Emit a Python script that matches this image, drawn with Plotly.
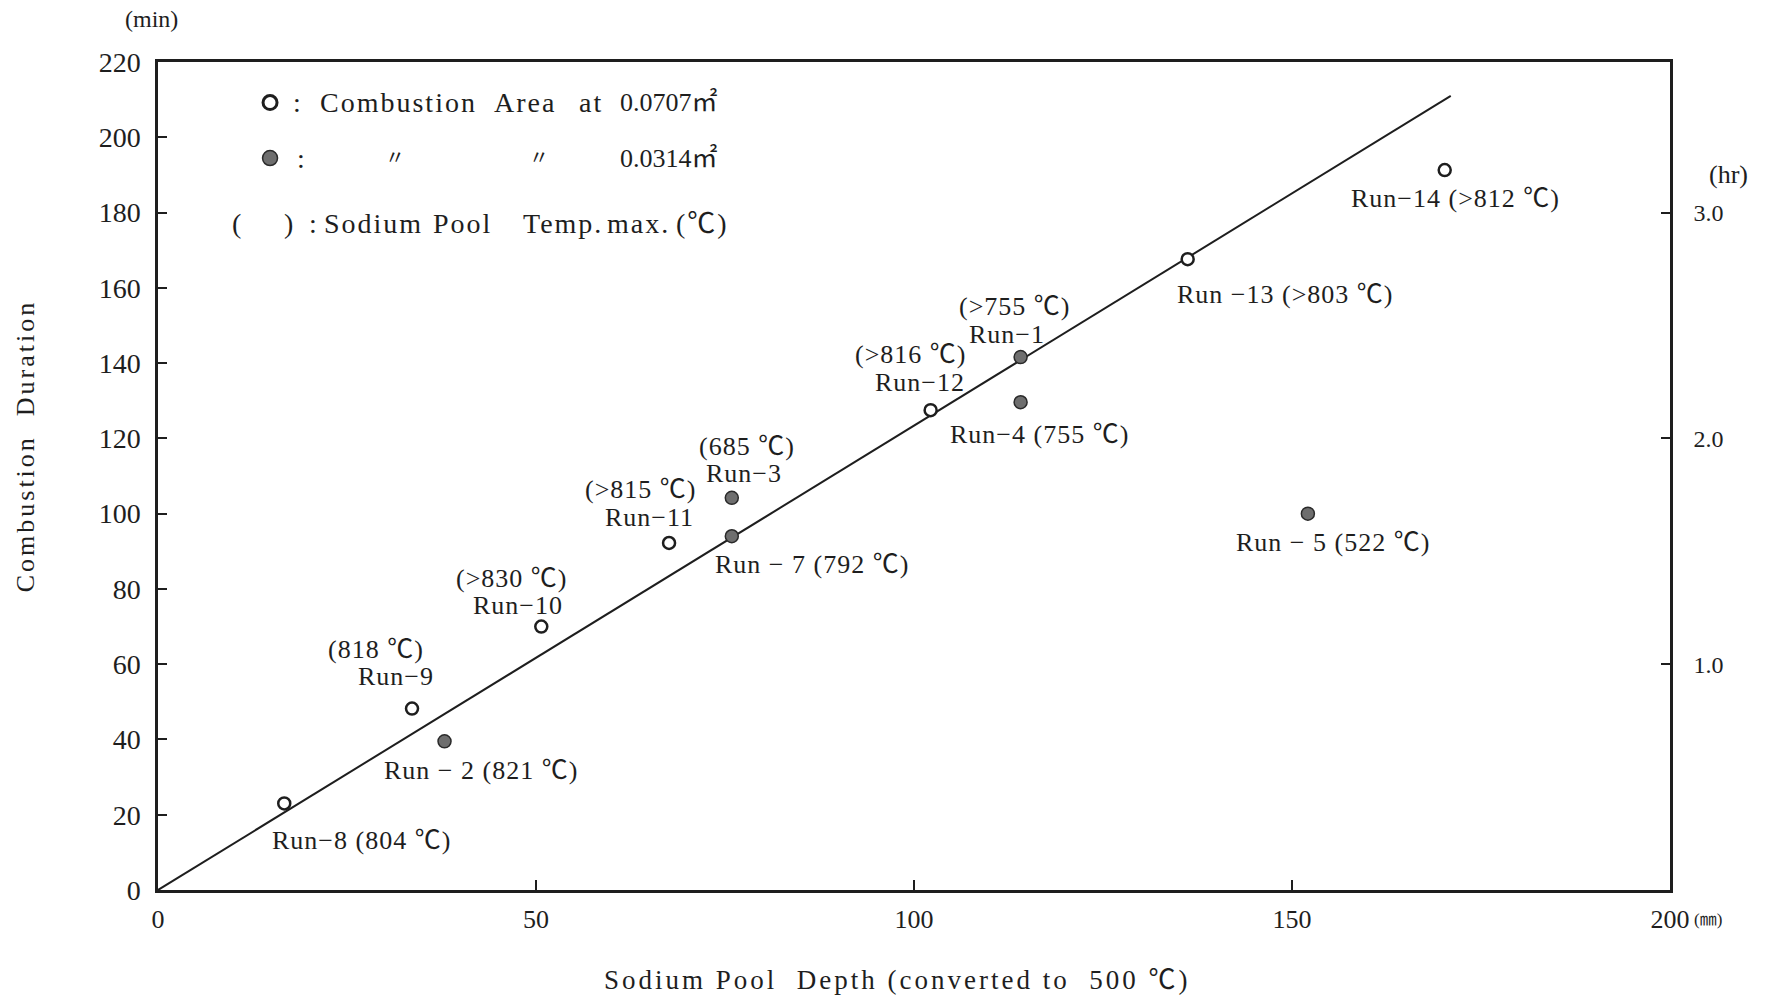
import plotly.graph_objects as go

# ---------------- data ----------------
open_runs = ["Run-8", "Run-9", "Run-10", "Run-11", "Run-12", "Run-13", "Run-14"]
open_depth = [16.7, 33.6, 50.7, 67.6, 102.2, 136.2, 170.2]
open_duration = [23.0, 48.2, 70.0, 92.2, 127.5, 167.6, 191.3]
open_temp = ["804 ℃", "818 ℃", ">830 ℃", ">815 ℃", ">816 ℃", ">803 ℃", ">812 ℃"]

filled_runs = ["Run-2", "Run-3", "Run-7", "Run-1", "Run-4", "Run-5"]
filled_depth = [37.9, 75.9, 75.9, 114.1, 114.1, 152.1]
filled_duration = [39.5, 104.2, 94.0, 141.6, 129.6, 100.0]
filled_temp = ["821 ℃", "685 ℃", "792 ℃", ">755 ℃", "755 ℃", "522 ℃"]

fit_depth = [0, 171]
fit_duration = [0, 211]

x_ticks = [0, 50, 100, 150, 200]
y_ticks = [0, 20, 40, 60, 80, 100, 120, 140, 160, 180, 200, 220]
hr_ticks = [1.0, 2.0, 3.0]

# label layout: (style, dx, dy, ...) in pixels; "inline" = one line, "stack" = temp above run name
label_layout = {
    "Run-8": ("inline", 77, -37, "Run−8 (804 ℃)"),
    "Run-2": ("inline", 36, -29, "Run − 2 (821 ℃)"),
    "Run-9": ("stack", -36, 59, -16, 32),
    "Run-10": ("stack", -30, 48, -23, 21),
    "Run-11": ("stack", -29, 53, -20, 25),
    "Run-3": ("stack", 15, 51, 12, 24),
    "Run-7": ("inline", 80, -28, "Run − 7 (792 ℃)"),
    "Run-12": ("stack", -20, 56, -11, 28),
    "Run-1": ("stack", -6, 51, -14, 23),
    "Run-4": ("inline", 19, -32, "Run−4 (755 ℃)"),
    "Run-13": ("inline", 98, -35, "Run −13 (>803 ℃)"),
    "Run-14": ("inline", 11, -28, "Run−14 (>812 ℃)"),
    "Run-5": ("inline", 25, -29, "Run − 5 (522 ℃)"),
}

FONT = "Liberation Serif, Noto Sans CJK JP, serif"
INK = "#1e1e1e"
LABEL_SIZE = 26

fig = go.Figure()

fig.add_trace(go.Scatter(x=fit_depth, y=fit_duration, mode="lines",
                         line=dict(color=INK, width=2), showlegend=False, hoverinfo="skip"))
fig.add_trace(go.Scatter(x=open_depth, y=open_duration, mode="markers",
                         marker=dict(symbol="circle", size=12, color="white",
                                     line=dict(color=INK, width=2.5)),
                         showlegend=False, text=open_runs))
fig.add_trace(go.Scatter(x=filled_depth, y=filled_duration, mode="markers",
                         marker=dict(symbol="circle", size=13, color="#6e6e6e",
                                     line=dict(color="#2a2a2a", width=1.5)),
                         showlegend=False, text=filled_runs))
# empty trace to activate right-hand hour axis
fig.add_trace(go.Scatter(x=[], y=[], yaxis="y2", showlegend=False))

annotations = []


def sp(t, ls="letter-spacing:1px"):
    return f"<span style='{ls}'>{t}</span>"


def add_labels(runs, xs, ys, temps):
    f = dict(size=LABEL_SIZE, color=INK, family=FONT)
    for r, x, y, t in zip(runs, xs, ys, temps):
        lay = label_layout[r]
        if lay[0] == "inline":
            _, dx, dy, txt = lay
            annotations.append(dict(x=x, y=y, xref="x", yref="y", text=sp(txt), showarrow=False,
                                    xshift=dx, yshift=dy, font=f))
        else:
            _, dx1, dy1, dx2, dy2 = lay
            annotations.append(dict(x=x, y=y, xref="x", yref="y", text=sp(f"({t})"),
                                    showarrow=False, xshift=dx1, yshift=dy1, font=f))
            annotations.append(dict(x=x, y=y, xref="x", yref="y",
                                    text=sp(r.replace("-", "−")), showarrow=False,
                                    xshift=dx2, yshift=dy2, font=f))


add_labels(open_runs, open_depth, open_duration, open_temp)
add_labels(filled_runs, filled_depth, filled_duration, filled_temp)


def ptxt(text, x, y, size=28, xanchor="left", **kw):
    annotations.append(dict(x=x, y=y, xref="paper", yref="paper", text=text, showarrow=False,
                            xanchor=xanchor, yanchor="middle",
                            font=dict(size=size, color=INK, family=FONT), **kw))


LEG = "letter-spacing:2px"
R1, R2, R3 = 0.951, 0.884, 0.805
# legend block
ptxt(":", 0.088, R1)
ptxt(sp("Combustion", LEG), 0.106, R1)
ptxt(sp("Area", LEG), 0.2210, R1)
ptxt(sp("at", LEG), 0.2773, R1)
ptxt("0.0707㎡", 0.3044, R1, size=26)
ptxt(":", 0.0906, R2)
ptxt("〃", 0.157, R2, size=20, xanchor="center")
ptxt("〃", 0.252, R2, size=20, xanchor="center")
ptxt("0.0314㎡", 0.3044, R2, size=26)
ptxt("(", 0.0477, R3)
ptxt(")", 0.082, R3)
ptxt(":", 0.0986, R3)
ptxt(sp("Sodium", LEG), 0.1085, R3)
ptxt(sp("Pool", LEG), 0.1805, R3)
ptxt(sp("Temp.", LEG), 0.2402, R3)
ptxt(sp("max.", LEG), 0.2958, R3)
ptxt(sp("(℃)", LEG), 0.3415, R3)

# axis titles & units
ptxt(sp("Sodium Pool&nbsp; Depth (converted to&nbsp; 500 ℃)", "letter-spacing:3px"),
     0.489, -0.109, size=27, xanchor="center")
ptxt(sp("Combustion&nbsp; Duration", "letter-spacing:3px"), -0.088, 0.537, size=26,
     xanchor="center", textangle=-90)
ptxt("(min)", -0.004, 1.052, size=24, xanchor="center")
ptxt("(hr)", 1.039, 0.864, size=26, xanchor="center")
ptxt("(㎜)", 1.025, -0.036, size=17, xanchor="center")

shapes = [
    dict(type="circle", xref="paper", yref="paper", xsizemode="pixel", ysizemode="pixel",
         xanchor=0.0741, yanchor=R1, x0=-7, x1=7, y0=-7, y1=7,
         fillcolor="white", line=dict(color=INK, width=3)),
    dict(type="circle", xref="paper", yref="paper", xsizemode="pixel", ysizemode="pixel",
         xanchor=0.0741, yanchor=R2, x0=-7.5, x1=7.5, y0=-7.5, y1=7.5,
         fillcolor="#6e6e6e", line=dict(color="#2a2a2a", width=1.5)),
]

TICKFONT = dict(size=26, family=FONT, color=INK)

fig.update_layout(
    width=1767, height=998,
    margin=dict(l=158, r=97, t=62, b=108),
    paper_bgcolor="white", plot_bgcolor="white",
    font=dict(family=FONT, color=INK, size=24),
    showlegend=False,
    annotations=annotations,
    shapes=shapes,
    xaxis=dict(range=[0, 200], tickvals=x_ticks, ticktext=[str(v) for v in x_ticks],
               showgrid=False, zeroline=False, showline=True, linecolor=INK, linewidth=2.5,
               mirror=True, ticks="inside", ticklen=10, tickwidth=2, tickcolor=INK,
               tickfont=TICKFONT, ticklabelstandoff=4),
    yaxis=dict(range=[0, 220], tickvals=y_ticks, showgrid=False, zeroline=False,
               showline=True, linecolor=INK, linewidth=2.5, ticks="inside", ticklen=9,
               tickwidth=2, tickcolor=INK, tickfont=dict(size=28, family=FONT, color=INK),
               ticklabelstandoff=9),
    yaxis2=dict(range=[0, 220 / 60], overlaying="y", side="right", tickvals=hr_ticks,
                ticktext=[f"{v:.1f}" for v in hr_ticks], showgrid=False, zeroline=False,
                showline=True, linecolor=INK, linewidth=2.5, ticks="inside", ticklen=9,
                tickwidth=2, tickcolor=INK, tickfont=dict(size=24, family=FONT, color=INK),
                ticklabelstandoff=16),
)

fig.write_html("out.html")
